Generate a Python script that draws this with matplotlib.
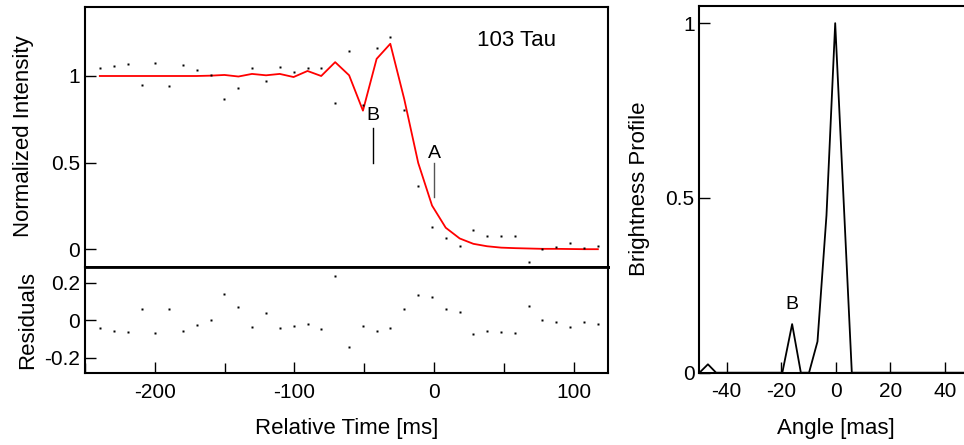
import matplotlib
matplotlib.use("Agg")
import matplotlib.pyplot as plt
from matplotlib.ticker import MultipleLocator

plt.rcParams['font.family'] = ['Liberation Sans', 'DejaVu Sans']
plt.rcParams['axes.unicode_minus'] = False

# ---- data: lunar occultation light curve ----
time_ms = [-239.4, -229.4, -219.4, -209.5, -199.6, -189.6, -179.8, -170.0, -160.0,
           -150.1, -140.1, -130.4, -120.3, -110.5, -100.6, -90.6, -80.8, -70.8,
           -60.8, -50.9, -41.1, -31.3, -21.3, -11.3, -1.4, 8.4, 18.4, 28.2, 38.0,
           48.1, 58.1, 67.9, 77.7, 87.7, 97.6, 107.6, 117.4]
intensity = [1.045, 1.060, 1.070, 0.948, 1.076, 0.940, 1.066, 1.033, 1.004,
             0.868, 0.932, 1.047, 0.969, 1.051, 1.025, 1.045, 1.045, 0.845,
             1.147, 0.835, 1.161, 1.225, 0.806, 0.362, 0.126, 0.064, 0.017,
             0.110, 0.077, 0.074, 0.077, -0.072, 0.002, 0.013, 0.035, 0.008, 0.021]
model = [1.0, 1.0, 1.0, 1.0, 1.0, 1.0, 1.0, 1.0, 1.002,
         1.006, 0.997, 1.012, 1.004, 1.012, 0.994, 1.029, 1.0, 1.08,
         1.004, 0.80, 1.099, 1.186, 0.866, 0.498, 0.252, 0.124, 0.062,
         0.031, 0.017, 0.009, 0.006, 0.004, 0.002, 0.002, 0.001, 0.0, 0.0]
residuals = [-0.041, -0.055, -0.064, 0.057, -0.069, 0.062, -0.059, -0.027, 0.002,
             0.140, 0.068, -0.036, 0.036, -0.039, -0.028, -0.018, -0.046, 0.235,
             -0.144, -0.032, -0.059, -0.039, 0.062, 0.133, 0.124, 0.060, 0.046,
             -0.075, -0.057, -0.060, -0.066, 0.076, 0.002, -0.012, -0.036, -0.007, -0.021]

# ---- data: brightness profile ----
angle_mas = [-50.0, -46.9, -43.9, -19.6, -16.0, -12.8, -9.8, -6.7, -3.4, -0.2, 5.9, 50.0]
brightness = [0.0, 0.024, 0.0, 0.0, 0.139, 0.0, 0.0, 0.089, 0.45, 1.0, 0.0, 0.0]

FS_TICK = 15
FS_LABEL = 16

fig = plt.figure(figsize=(9.64, 4.45), dpi=100)

ax1 = fig.add_axes([0.0882, 0.4011, 0.5430, 0.5838])
ax2 = fig.add_axes([0.0882, 0.1618, 0.5430, 0.2393], sharex=ax1)
ax3 = fig.add_axes([0.7256, 0.1625, 0.2827, 0.8247])

for ax in (ax1, ax2, ax3):
    for s in ax.spines.values():
        s.set_linewidth(1.5)
    ax.tick_params(direction='in', length=8, width=1, labelsize=FS_TICK)

# top panel
ax1.plot(time_ms, model, color='#ff0000', lw=1.3, zorder=2)
ax1.plot(time_ms, intensity, 's', color='black', ms=1.9, mec='none', zorder=3)
ax1.set_xlim(-250, 125)
ax1.set_ylim(-0.1, 1.4)
ax1.set_yticks([0, 0.5, 1])
ax1.set_yticklabels(['0', '0.5', '1'])
ax1.tick_params(axis='x', which='both', bottom=False, labelbottom=False)
ax1.spines['bottom'].set_linewidth(2)
ax1.set_ylabel('Normalized Intensity', fontsize=FS_LABEL)
ax1.yaxis.set_label_coords(-0.098, 0.5)
ax1.text(59, 1.205, '103 Tau', fontsize=FS_LABEL, ha='center', va='center')
ax1.text(-44, 0.77, 'B', fontsize=14, ha='center', va='center')
ax1.plot([-44, -44], [0.50, 0.70], color='black', lw=1)
ax1.text(0, 0.555, 'A', fontsize=14, ha='center', va='center')
ax1.plot([0, 0], [0.30, 0.50], color='#555555', lw=1)

# residual panel
ax2.plot(time_ms, residuals, 's', color='black', ms=1.9, mec='none')
ax2.set_ylim(-0.28, 0.285)
ax2.set_yticks([-0.2, 0, 0.2])
ax2.set_yticklabels(['-0.2', '0', '0.2'])
ax2.xaxis.set_major_locator(MultipleLocator(100))
ax2.xaxis.set_minor_locator(MultipleLocator(50))
ax2.tick_params(axis='x', which='minor', direction='in', length=7, width=1)
ax2.tick_params(axis='x', which='major', pad=7)
ax2.spines['top'].set_linewidth(2)
ax2.set_xlabel('Relative Time [ms]', fontsize=FS_LABEL, labelpad=12)
ax2.set_ylabel('Residuals', fontsize=FS_LABEL)
ax2.yaxis.set_label_coords(-0.089, 0.5)

# brightness profile
ax3.plot(angle_mas, brightness, color='black', lw=1.3)
ax3.set_xlim(-50, 50)
ax3.set_ylim(0, 1.05)
ax3.set_xticks([-40, -20, 0, 20, 40])
ax3.set_yticks([0, 0.5, 1])
ax3.set_yticklabels(['0', '0.5', '1'])
ax3.tick_params(axis='x', pad=7)
ax3.text(-16, 0.194, 'B', fontsize=14, ha='center', va='center')
ax3.set_xlabel('Angle [mas]', fontsize=FS_LABEL, labelpad=12)
ax3.set_ylabel('Brightness Profile', fontsize=FS_LABEL)
ax3.yaxis.set_label_coords(-0.183, 0.5)

fig.savefig('out.png', dpi=100)
